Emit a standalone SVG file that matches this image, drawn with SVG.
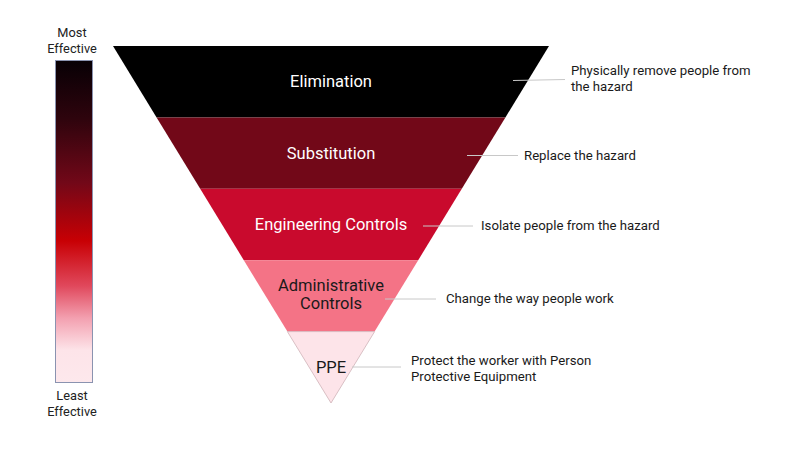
<svg xmlns="http://www.w3.org/2000/svg" width="800" height="450" viewBox="0 0 800 450">
<defs>
<linearGradient id="grad" x1="0" y1="0" x2="0" y2="1">
<stop offset="0" stop-color="#070005"/>
<stop offset="0.18" stop-color="#2e040d"/>
<stop offset="0.38" stop-color="#720818"/>
<stop offset="0.56" stop-color="#c80004"/>
<stop offset="0.7" stop-color="#e0485c"/>
<stop offset="0.8" stop-color="#f3a0b0"/>
<stop offset="0.9" stop-color="#fde4e9"/>
<stop offset="1" stop-color="#fde8ec"/>
</linearGradient>
<style>
.lbl{font-family:Roboto,"Liberation Sans",sans-serif;font-size:16.5px;text-anchor:middle;}
.w{fill:#ffffff;}
.k{fill:#1a1a1a;}
.desc{font-family:Roboto,"Liberation Sans",sans-serif;font-size:13.2px;fill:#1a1a1a;}
.scale{font-family:Roboto,"Liberation Sans",sans-serif;font-size:12.8px;fill:#222;text-anchor:middle;}
.conn{stroke:#c8c8c8;stroke-width:1;fill:none;}
</style>
</defs>
<rect width="800" height="450" fill="#ffffff"/>
<g id="scale">
<rect x="55.5" y="60.5" width="37" height="322" fill="url(#grad)" stroke="#8a93b0" stroke-width="1"/>
<text class="scale" x="72" y="37">Most</text>
<text class="scale" x="72" y="53">Effective</text>
<text class="scale" x="72" y="400">Least</text>
<text class="scale" x="72" y="416">Effective</text>
</g>
<g id="elimination">
<polygon points="113,46 549,46 505.4,117.4 156.6,117.4" fill="#000000"/>
<text class="lbl w" x="331" y="87">Elimination</text>
<text class="desc" x="571" y="75">Physically remove people from</text>
<text class="desc" x="571" y="91">the hazard</text>
</g>
<g id="substitution">
<polygon points="156.6,117.4 505.4,117.4 461.8,188.8 200.2,188.8" fill="#720818"/>
<text class="lbl w" x="331" y="159">Substitution</text>
<text class="desc" x="524" y="160">Replace the hazard</text>
</g>
<g id="engineering">
<polygon points="200.2,188.8 461.8,188.8 418.2,260.2 243.8,260.2" fill="#c90a2d"/>
<text class="lbl w" x="331" y="230">Engineering Controls</text>
<text class="desc" x="481" y="229.5">Isolate people from the hazard</text>
</g>
<g id="administrative">
<polygon points="243.8,260.2 418.2,260.2 374.6,331.6 287.4,331.6" fill="#f47386"/>
<text class="lbl k" x="331" y="291">Administrative</text>
<text class="lbl k" x="331" y="309">Controls</text>
<text class="desc" x="446" y="303">Change the way people work</text>
</g>
<g id="ppe">
<polygon points="287.4,331.6 374.6,331.6 331,403" fill="#fde4e9" stroke="#cfb3b8" stroke-width="0.8"/>
<text class="lbl k" x="331" y="372.5">PPE</text>
<text class="desc" x="411" y="365">Protect the worker with Person</text>
<text class="desc" x="411" y="381">Protective Equipment</text>
</g>
<g id="connectors">
<line class="conn" x1="513" y1="80.5" x2="565" y2="79.5"/>
<line class="conn" x1="467" y1="155.5" x2="518" y2="155.5"/>
<line class="conn" x1="423" y1="226" x2="473" y2="226"/>
<line class="conn" x1="385" y1="299" x2="436" y2="299"/>
<line class="conn" x1="352" y1="367" x2="401" y2="367"/>
</g>
</svg>
